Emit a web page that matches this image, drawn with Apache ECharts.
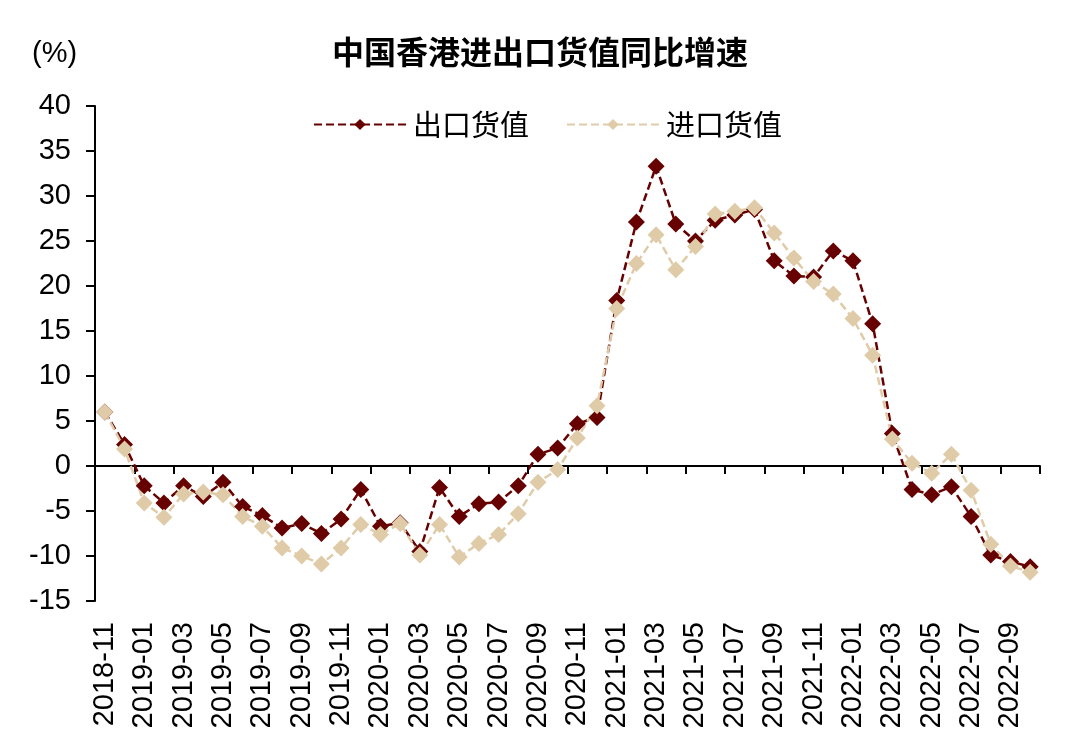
<!DOCTYPE html>
<html>
<head>
<meta charset="utf-8">
<script src="https://cdn.jsdelivr.net/npm/echarts@6/dist/echarts.min.js"></script>
<style>html,body{margin:0;padding:0;background:#fff}#c{width:1080px;height:749px}</style>
</head>
<body>
<div id="c"></div>
<script>
const months = ['2018-11','2018-12','2019-01','2019-02','2019-03','2019-04','2019-05','2019-06','2019-07','2019-08','2019-09','2019-10','2019-11','2019-12','2020-01','2020-02','2020-03','2020-04','2020-05','2020-06','2020-07','2020-08','2020-09','2020-10','2020-11','2020-12','2021-01','2021-02','2021-03','2021-04','2021-05','2021-06','2021-07','2021-08','2021-09','2021-10','2021-11','2021-12','2022-01','2022-02','2022-03','2022-04','2022-05','2022-06','2022-07','2022-08','2022-09','2022-10'];
const exportVal = [6.0,2.4,-2.2,-4.1,-2.2,-3.4,-1.8,-4.5,-5.5,-6.9,-6.4,-7.5,-5.9,-2.6,-6.7,-6.3,-9.5,-2.4,-5.6,-4.2,-4.0,-2.2,1.3,2.0,4.7,5.4,18.4,27.1,33.3,26.9,25.0,27.3,27.9,28.5,22.8,21.1,21.0,23.9,22.8,15.8,3.6,-2.6,-3.2,-2.3,-5.6,-9.9,-10.6,-11.2];
const importVal = [6.0,1.9,-4.1,-5.7,-3.1,-2.9,-3.2,-5.6,-6.7,-9.1,-10.0,-10.9,-9.1,-6.5,-7.6,-6.4,-9.9,-6.5,-10.1,-8.6,-7.6,-5.3,-1.8,-0.4,3.1,6.7,17.5,22.5,25.7,21.8,24.4,28.0,28.3,28.7,25.9,23.1,20.5,19.1,16.4,12.3,3.0,0.3,-0.8,1.3,-2.7,-8.7,-11.1,-11.8];
const seriesNames = ['出口货值','进口货值'];
const titleText = '中国香港进出口货值同比增速';
const unitText = '(%)';

const FONT = "'Liberation Sans', Arial, 'Noto Sans CJK SC', sans-serif";
const CJK = "'Noto Sans CJK SC', sans-serif";
const dark = '#670000';
const light = '#E0CBA9';
const chart = echarts.init(document.getElementById('c'));
chart.setOption({
  animation: false,
  backgroundColor: '#fff',
  textStyle: { fontFamily: FONT, color: '#000' },
  title: {
    text: titleText, left: 'center', top: 31,
    textStyle: { fontSize: 32, fontWeight: 'bold', color: '#000', fontFamily: CJK }
  },
  graphic: [{
    type: 'text', left: 32, top: 39,
    style: { text: unitText, fontSize: 29, fill: '#000', fontFamily: FONT }
  }],
  legend: {
    left: 308, top: 105, itemWidth: 92, itemHeight: 14, itemGap: 37,
    textStyle: { fontSize: 29, color: '#000', fontFamily: CJK, padding: [0, 0, 0, 2] },
    data: seriesNames
  },
  grid: { left: 95, right: 40, top: 106, bottom: 148 },
  xAxis: [{
    type: 'category', data: months, boundaryGap: true, position: 'bottom',
    axisLine: { show: false, onZero: false },
    axisTick: { show: false },
    axisLabel: { interval: 1, rotate: 90, fontSize: 29, color: '#000', margin: 21, fontFamily: FONT }
  }, {
    type: 'category', data: months, boundaryGap: true, position: 'bottom',
    axisLine: { show: true, onZero: true, onZeroAxisIndex: 0, lineStyle: { color: '#000', width: 2 } },
    axisTick: { show: true, interval: 1, length: 8, inside: false, lineStyle: { color: '#000', width: 2 } },
    axisLabel: { show: false }
  }],
  yAxis: {
    type: 'value', min: -15, max: 40, interval: 5,
    splitLine: { show: false },
    axisLine: { show: true, lineStyle: { color: '#000', width: 2 } },
    axisTick: { show: true, length: 9, lineStyle: { color: '#000', width: 2 } },
    axisLabel: { fontSize: 29, color: '#000', margin: 24, fontFamily: FONT }
  },
  series: [{
    name: seriesNames[0], type: 'line', data: exportVal, xAxisIndex: 0,
    symbol: 'diamond', symbolSize: 17, showAllSymbol: true,
    itemStyle: { color: dark },
    lineStyle: { color: dark, width: 2.5, type: [8, 4] }
  }, {
    name: seriesNames[1], type: 'line', data: importVal, xAxisIndex: 0,
    symbol: 'diamond', symbolSize: 17, showAllSymbol: true,
    itemStyle: { color: light },
    lineStyle: { color: light, width: 2.5, type: [8, 4] }
  }]
});
</script>
</body>
</html>
